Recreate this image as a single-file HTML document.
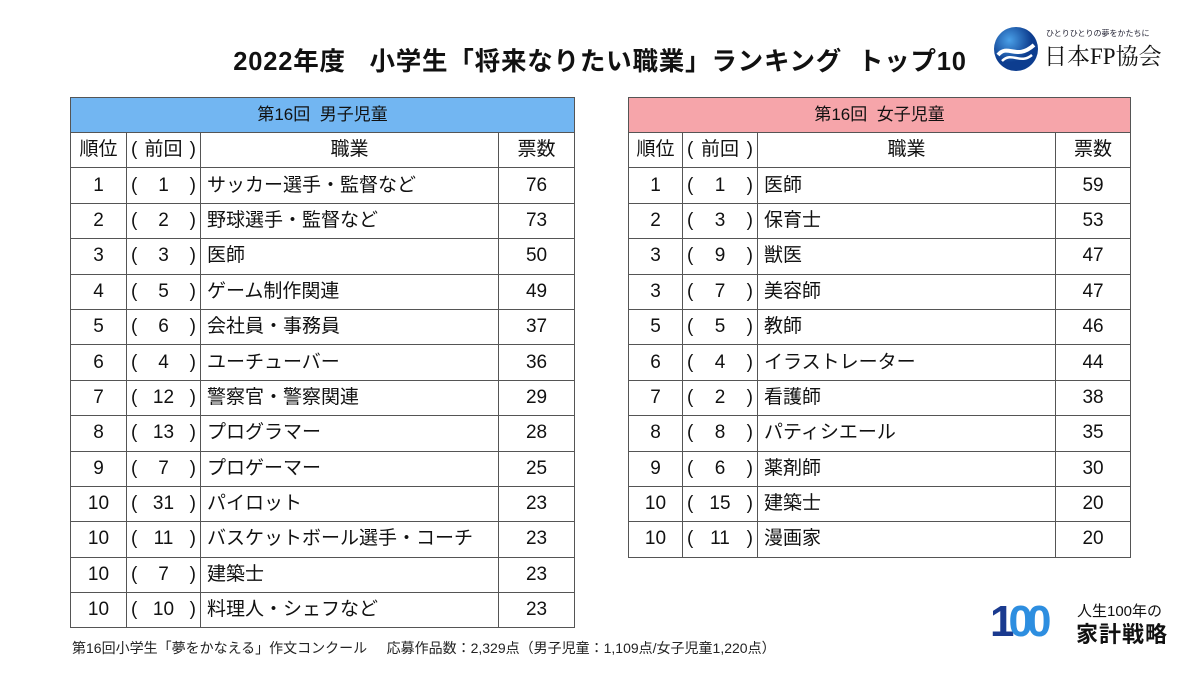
<!DOCTYPE html>
<html><head><meta charset="utf-8"><style>
body{margin:0;width:1200px;height:675px;background:#fff;position:relative;overflow:hidden;font-family:"Liberation Sans","Noto Sans CJK JP",sans-serif;color:#111}
.title{position:absolute;left:0;width:1200px;top:46px;text-align:center;font-size:25.5px;font-weight:bold;letter-spacing:0.8px;line-height:32px}
table{position:absolute;top:97px;border-collapse:collapse;table-layout:fixed}
td{border:1.3px solid #555;height:34.4px;padding:0;font-size:19px;line-height:22px;text-align:center;vertical-align:middle;white-space:nowrap;overflow:hidden}
td.h{font-size:17px;height:34px}
td.j{text-align:left;padding-left:6px}
.p{display:flex;justify-content:space-between;align-items:center;height:22px;line-height:22px;padding:0 4px}
.p span{display:block;line-height:22px}
#L{left:70px;width:504px}
#R{left:628px;width:502px}
.foot{position:absolute;left:72px;top:638px;font-size:14px;color:#222;line-height:20px}
</style></head><body>
<div class="title">2022年度&nbsp;&nbsp;&nbsp;小学生「将来なりたい職業」ランキング&nbsp;&nbsp;トップ10</div>
<svg style="position:absolute;left:992px;top:25px" width="48" height="48" viewBox="0 0 48 48"><defs><radialGradient id="g" cx="35%" cy="30%"><stop offset="0" stop-color="#4aa0e8"/><stop offset="1" stop-color="#0d3d8f"/></radialGradient></defs><circle cx="24" cy="24" r="22" fill="url(#g)"/><path d="M6 30 C16 18,24 36,42 20" stroke="#fff" stroke-width="4" fill="none"/><path d="M10 36 C20 26,28 40,40 30" stroke="#fff" stroke-width="2.5" fill="none"/></svg>
<div style="position:absolute;left:1046px;top:28px;font-size:8px;color:#223">ひとりひとりの夢をかたちに</div>
<div style="position:absolute;left:1044px;top:38px;font-size:23px;font-family:'Liberation Serif','Noto Serif CJK SC',serif;color:#111">日本FP協会</div>
<div style="position:absolute;left:990px;top:597px;font-size:44px;font-weight:bold;color:#1a3a8f;letter-spacing:-6px;font-family:'Liberation Sans',sans-serif">1<span style="color:#2d8ee0">00</span></div>
<div style="position:absolute;left:1077px;top:600px;font-size:15px;color:#111">人生100年の</div>
<div style="position:absolute;left:1076px;top:617px;font-size:22px;font-weight:bold;color:#111;letter-spacing:1px">家計戦略</div>

<table id="L"><colgroup><col style="width:56px"><col style="width:74px"><col style="width:298px"><col style="width:76px"></colgroup>
<tr><td class="h" colspan="4" style="background:#72b6f2">第16回&nbsp;&nbsp;男子児童</td></tr>
<tr><td>順位</td><td><div class="p"><span>(</span><span>前回</span><span>)</span></div></td><td>職業</td><td>票数</td></tr>
<tr><td>1</td><td><div class="p"><span>(</span><span>1</span><span>)</span></div></td><td class="j">サッカー選手・監督など</td><td>76</td></tr>
<tr><td>2</td><td><div class="p"><span>(</span><span>2</span><span>)</span></div></td><td class="j">野球選手・監督など</td><td>73</td></tr>
<tr><td>3</td><td><div class="p"><span>(</span><span>3</span><span>)</span></div></td><td class="j">医師</td><td>50</td></tr>
<tr><td>4</td><td><div class="p"><span>(</span><span>5</span><span>)</span></div></td><td class="j">ゲーム制作関連</td><td>49</td></tr>
<tr><td>5</td><td><div class="p"><span>(</span><span>6</span><span>)</span></div></td><td class="j">会社員・事務員</td><td>37</td></tr>
<tr><td>6</td><td><div class="p"><span>(</span><span>4</span><span>)</span></div></td><td class="j">ユーチューバー</td><td>36</td></tr>
<tr><td>7</td><td><div class="p"><span>(</span><span>12</span><span>)</span></div></td><td class="j">警察官・警察関連</td><td>29</td></tr>
<tr><td>8</td><td><div class="p"><span>(</span><span>13</span><span>)</span></div></td><td class="j">プログラマー</td><td>28</td></tr>
<tr><td>9</td><td><div class="p"><span>(</span><span>7</span><span>)</span></div></td><td class="j">プロゲーマー</td><td>25</td></tr>
<tr><td>10</td><td><div class="p"><span>(</span><span>31</span><span>)</span></div></td><td class="j">パイロット</td><td>23</td></tr>
<tr><td>10</td><td><div class="p"><span>(</span><span>11</span><span>)</span></div></td><td class="j">バスケットボール選手・コーチ</td><td>23</td></tr>
<tr><td>10</td><td><div class="p"><span>(</span><span>7</span><span>)</span></div></td><td class="j">建築士</td><td>23</td></tr>
<tr><td>10</td><td><div class="p"><span>(</span><span>10</span><span>)</span></div></td><td class="j">料理人・シェフなど</td><td>23</td></tr>
</table>

<table id="R"><colgroup><col style="width:54px"><col style="width:75px"><col style="width:298px"><col style="width:75px"></colgroup>
<tr><td class="h" colspan="4" style="background:#f6a5aa">第16回&nbsp;&nbsp;女子児童</td></tr>
<tr><td>順位</td><td><div class="p"><span>(</span><span>前回</span><span>)</span></div></td><td>職業</td><td>票数</td></tr>
<tr><td>1</td><td><div class="p"><span>(</span><span>1</span><span>)</span></div></td><td class="j">医師</td><td>59</td></tr>
<tr><td>2</td><td><div class="p"><span>(</span><span>3</span><span>)</span></div></td><td class="j">保育士</td><td>53</td></tr>
<tr><td>3</td><td><div class="p"><span>(</span><span>9</span><span>)</span></div></td><td class="j">獣医</td><td>47</td></tr>
<tr><td>3</td><td><div class="p"><span>(</span><span>7</span><span>)</span></div></td><td class="j">美容師</td><td>47</td></tr>
<tr><td>5</td><td><div class="p"><span>(</span><span>5</span><span>)</span></div></td><td class="j">教師</td><td>46</td></tr>
<tr><td>6</td><td><div class="p"><span>(</span><span>4</span><span>)</span></div></td><td class="j">イラストレーター</td><td>44</td></tr>
<tr><td>7</td><td><div class="p"><span>(</span><span>2</span><span>)</span></div></td><td class="j">看護師</td><td>38</td></tr>
<tr><td>8</td><td><div class="p"><span>(</span><span>8</span><span>)</span></div></td><td class="j">パティシエール</td><td>35</td></tr>
<tr><td>9</td><td><div class="p"><span>(</span><span>6</span><span>)</span></div></td><td class="j">薬剤師</td><td>30</td></tr>
<tr><td>10</td><td><div class="p"><span>(</span><span>15</span><span>)</span></div></td><td class="j">建築士</td><td>20</td></tr>
<tr><td>10</td><td><div class="p"><span>(</span><span>11</span><span>)</span></div></td><td class="j">漫画家</td><td>20</td></tr>
</table>

<div class="foot">第16回小学生「夢をかなえる」作文コンクール&nbsp;&nbsp;&nbsp;&nbsp;&nbsp;応募作品数：2,329点（男子児童：1,109点/女子児童1,220点）</div>
</body></html>
